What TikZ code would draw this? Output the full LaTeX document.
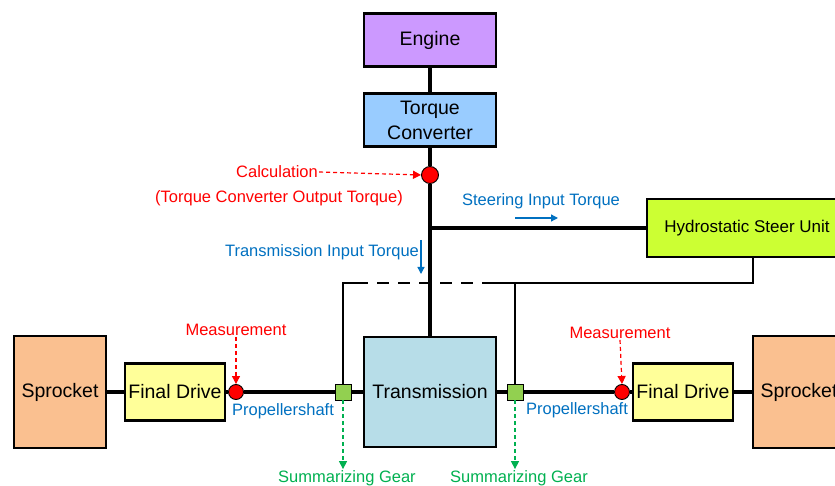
\documentclass[tikz,border=0pt]{standalone}
\usepackage{fontspec}
\setmainfont{Liberation Sans}
\usetikzlibrary{arrows.meta,positioning}

\definecolor{enginefill}{HTML}{CC99FF}
\definecolor{convfill}{HTML}{99CCFF}
\definecolor{steerfill}{HTML}{CCFF33}
\definecolor{transfill}{HTML}{B7DDE8}
\definecolor{drivefill}{HTML}{FFFF99}
\definecolor{sprocketfill}{HTML}{FAC090}
\definecolor{gearfill}{HTML}{92D050}
\definecolor{calcred}{HTML}{FF0000}
\definecolor{torqueblue}{HTML}{0070C0}
\definecolor{geargreen}{HTML}{00B050}

\begin{document}
\begin{tikzpicture}[
        x=1pt, y=-1pt,
        block/.style={rectangle, draw, line width=2.4pt, inner sep=0pt, align=center, font=\fontsize{19.5}{25}\selectfont},
        probe/.style={circle, draw, line width=0.9pt, fill=calcred, inner sep=0pt, minimum size=15pt},
        gear/.style={rectangle, draw, line width=0.9pt, fill=gearfill, inner sep=0pt, minimum size=16pt},
        shaft/.style={line width=3.4pt},
        link/.style={line width=2.6pt},
        note/.style={inner sep=1pt, font=\fontsize{16.5}{18}\selectfont},
        pointer/.style={-{Triangle[length=8pt,width=8pt]}, line width=1.2pt, dash pattern=on 4pt off 3pt},
        flow/.style={-{Triangle[length=7pt,width=7pt]}, line width=1.3pt, torqueblue}
      ]
        \useasboundingbox (0,0) rectangle (835,486);
        \clip (0,0) rectangle (835,486);

        % Power source
        \node[block, fill=enginefill, minimum width=132pt, minimum height=53pt] (engine) at (430,40) {Engine};
        \node[block, fill=convfill, minimum width=132pt, minimum height=53pt] (converter) at (430,120) {Torque\\Converter};
        \node[probe, minimum size=17pt] (calc) at (430,175) {};

        % Steering branch
        \node[block, fill=steerfill, minimum width=200pt, minimum height=58pt, font=\fontsize{17}{20}\selectfont] (hsu) at (747,228) {Hydrostatic Steer Unit};
        \coordinate (steerjn) at (430,228);

        % Drive line
        \node[block, fill=transfill, minimum width=132pt, minimum height=110pt] (trans) at (430,392) {Transmission};
        \node[gear] (gearL) at (343,392) {};
        \node[gear] (gearR) at (515,392) {};
        \node[probe] (dotL) at (236,392) {};
        \node[probe] (dotR) at (622,392) {};
        \node[block, fill=drivefill, minimum width=100pt, minimum height=57pt] (driveL) at (175,392) {Final Drive};
        \node[block, fill=drivefill, minimum width=100pt, minimum height=57pt] (driveR) at (683,392) {Final Drive};
        \node[block, fill=sprocketfill, minimum width=92pt, minimum height=112pt] (sprocketL) at (60,392) {Sprocket};
        \node[block, fill=sprocketfill, minimum width=92pt, minimum height=112pt] (sprocketR) at (799,392) {Sprocket};

        % Steer loop
        \coordinate (loopL) at (343,283);
        \coordinate (dashA) at (368,283);
        \coordinate (dashB) at (490,283);
        \coordinate (loopR) at (753,283);

        % Connections
        \draw[shaft] (engine) -- (converter);
        \draw[shaft] (converter) -- (calc);
        \draw[shaft] (calc) -- (steerjn) -- (trans);
        \draw[shaft] (steerjn) -- (hsu);
        \draw[shaft] (sprocketL) -- (driveL) -- (dotL) -- (gearL) -- (trans) -- (gearR) -- (dotR) -- (driveR) -- (sprocketR);
        \draw[link] (gearL) -- (loopL) -- (dashA);
        \draw[link, dash pattern=on 12pt off 9pt, dash phase=12pt] (dashA) -- (dashB);
        \draw[link] (dashB) -- (loopR) -- (hsu.south -| loopR);
        \draw[link] (gearR) -- (gearR |- loopL);

        % Labels
        \node[note, text=calcred] (calctxt) at (277,172) {Calculation};
        \node[note, text=calcred] (calcsub) at (279,198) {(Torque Converter Output Torque)};
        \node[note, text=calcred] (measL) at (236,330) {Measurement};
        \node[note, text=calcred] (measR) at (620,333) {Measurement};
        \node[note, text=torqueblue] (steertxt) at (541,201) {Steering Input Torque};
        \node[note, text=torqueblue] (transtxt) at (322,252) {Transmission Input Torque};
        \node[note, text=torqueblue] (propL) at (283,411) {Propellershaft};
        \node[note, text=torqueblue] (propR) at (577,410) {Propellershaft};
        \node[note, text=geargreen] (sumL) at (347,478) {Summarizing Gear};
        \node[note, text=geargreen] (sumR) at (519,478) {Summarizing Gear};

        % Pointers
        \draw[pointer, calcred] (calctxt.east) -- (calc.west);
        \draw[pointer, calcred] (measL.south) -- (dotL.north);
        \draw[pointer, calcred] (measR.south) -- (dotR.north);
        \draw[pointer, geargreen] (gearL.south) -- (gearL |- sumL.north);
        \draw[pointer, geargreen] (gearR.south) -- (gearR |- sumR.north);

        % Torque flow
        \coordinate (stA) at (515,218);
        \coordinate (stB) at (558,218);
        \coordinate (trA) at (421,240);
        \coordinate (trB) at (421,274);
        \draw[flow] (stA) -- (stB);
        \draw[flow] (trA) -- (trB);
      \end{tikzpicture}
\end{document}
